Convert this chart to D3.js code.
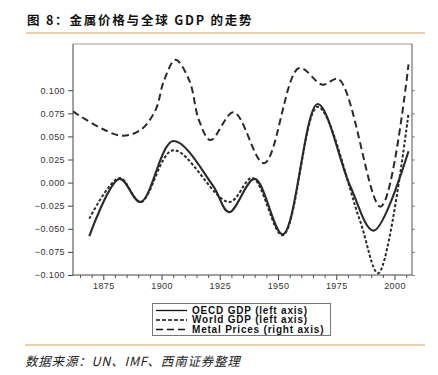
<!DOCTYPE html>
<html><head><meta charset="utf-8">
<script src="https://cdn.jsdelivr.net/npm/d3@7"></script>
<style>
body{margin:0;background:#fff;}
svg{display:block;}
</style></head>
<body>
<svg id="chart" width="438" height="375"></svg>
<script>
// ---- data ----
const oecdYears  = [1869, 1882, 1891, 1905, 1922, 1929, 1940, 1952, 1967, 1981, 1991, 2006];
const oecdValues = [-0.058, 0.004, -0.021, 0.045, -0.003, -0.032, 0.004, -0.056, 0.085, -0.004, -0.052, 0.034];
const worldYears  = [1869, 1882, 1891, 1905, 1929, 1939, 1952, 1967, 1985, 1993, 2006];
const worldValues = [-0.039, 0.005, -0.021, 0.035, -0.021, 0.005, -0.057, 0.082, -0.040, -0.098, 0.075];
const metalYears  = [1862, 1882, 1891, 1897.5, 1901, 1906, 1912, 1916, 1921, 1931, 1944, 1959, 1969, 1976, 1994, 2006];
const metalValues = [0.077, 0.051, 0.057, 0.079, 0.110, 0.133, 0.110, 0.068, 0.046, 0.076, 0.021, 0.124, 0.106, 0.112, -0.026, 0.128];
const leftTicks = [-0.100, -0.075, -0.050, -0.025, 0.000, 0.025, 0.050, 0.075, 0.100];
const xTicks = [1875, 1900, 1925, 1950, 1975, 2000];
const legendLabels = ["OECD GDP (left axis)", "World GDP (left axis)", "Metal Prices (right axis)"];
const titleText = "图 8：金属价格与全球 GDP 的走势";
const sourceText = "数据来源：UN、IMF、西南证券整理";

// ---- layout ----
const svg = d3.select("#chart");
const L = 73, R = 412, T = 44, B = 275;
const x = d3.scaleLinear().domain([1862, 2007.5]).range([L, R]);
const yL = d3.scaleLinear().domain([-0.1, 0.15]).range([B, T]);
const yR = d3.scaleLinear().domain([-0.1, 0.15]).range([B, T]);

// title
svg.append("text").attr("x", 27).attr("y", 25)
  .attr("font-family", "'Noto Sans CJK SC', 'Liberation Sans', sans-serif")
  .attr("font-weight", "bold").attr("font-size", 12.5).attr("letter-spacing", 1.8)
  .attr("fill", "#111").text(titleText);
svg.append("line").attr("x1", 26).attr("x2", 425).attr("y1", 33).attr("y2", 33)
  .attr("stroke", "#d4a458").attr("stroke-width", 1.2);

// plot frame
svg.append("line").attr("x1", L).attr("x2", R).attr("y1", T).attr("y2", T).attr("stroke", "#999").attr("stroke-width", 1);

const axisFont = "'Liberation Sans', Arial, sans-serif";

// left axis
const gL = svg.append("g").attr("transform", `translate(${L},0)`)
  .call(d3.axisLeft(yL).tickValues(leftTicks).tickFormat(d3.format(".3f")).tickSize(5).tickSizeOuter(0).tickPadding(3));
gL.select(".domain").remove();
gL.append("line").attr("y1", T).attr("y2", B).attr("stroke", "#444");
gL.selectAll(".tick line").attr("stroke", "#444");
gL.selectAll("text").attr("font-family", axisFont).attr("font-size", 9).attr("letter-spacing", 0.4).attr("fill", "#333");

// right axis (ticks only)
const gR = svg.append("g").attr("transform", `translate(${R},0)`)
  .call(d3.axisRight(yR).tickValues(leftTicks).tickFormat("").tickSize(3).tickSizeOuter(0));
gR.select(".domain").remove();
gR.append("line").attr("y1", T).attr("y2", B).attr("stroke", "#555");
gR.selectAll(".tick line").attr("stroke", "#888");

// bottom axis
const minorYears = d3.range(1865, 2006, 5).filter(v => !xTicks.includes(v));
const gM = svg.append("g").attr("transform", `translate(0,${B})`)
  .call(d3.axisBottom(x).tickValues(minorYears).tickFormat("").tickSize(3).tickSizeOuter(0));
gM.select(".domain").remove();
gM.selectAll(".tick line").attr("stroke", "#555");
const gB = svg.append("g").attr("transform", `translate(0,${B})`)
  .call(d3.axisBottom(x).tickValues(xTicks).tickFormat(d3.format("d")).tickSize(5).tickSizeOuter(0).tickPadding(3));
gB.select(".domain").remove();
gB.append("line").attr("x1", L).attr("x2", R).attr("stroke", "#444");
gB.selectAll(".tick line").attr("stroke", "#444");
gB.selectAll("text").attr("font-family", axisFont).attr("font-size", 9).attr("letter-spacing", 0.4).attr("fill", "#333");

// clip
svg.append("clipPath").attr("id", "clip").append("rect").attr("x", L).attr("y", T).attr("width", R - L).attr("height", B - T);

const mk = (years, vals) => years.map((yr, i) => [yr, vals[i]]);
const curve = d3.curveCatmullRom.alpha(0.5);
const lineL = d3.line().x(d => x(d[0])).y(d => yL(d[1])).curve(curve);
const lineR = d3.line().x(d => x(d[0])).y(d => yR(d[1])).curve(curve);

const plot = svg.append("g").attr("clip-path", "url(#clip)");
plot.append("path").datum(mk(metalYears, metalValues)).attr("d", lineR)
  .attr("fill", "none").attr("stroke", "#2a2a2a").attr("stroke-width", 2).attr("stroke-dasharray", "7,4");
plot.append("path").datum(mk(worldYears, worldValues)).attr("d", lineL)
  .attr("fill", "none").attr("stroke", "#2a2a2a").attr("stroke-width", 2).attr("stroke-dasharray", "3,2");
plot.append("path").datum(mk(oecdYears, oecdValues)).attr("d", lineL)
  .attr("fill", "none").attr("stroke", "#2a2a2a").attr("stroke-width", 2.1);

// legend
const lg = svg.append("g");
lg.append("rect").attr("x", 152.5).attr("y", 303.5).attr("width", 178).attr("height", 32)
  .attr("fill", "#fff").attr("stroke", "#777").attr("stroke-width", 1);
const dashes = [null, "4,2", "7,4"];
legendLabels.forEach((lab, i) => {
  const yy = 310.5 + i * 9.5;
  lg.append("line").attr("x1", 156).attr("x2", 187).attr("y1", yy).attr("y2", yy)
    .attr("stroke", "#111").attr("stroke-width", 1.3).attr("stroke-dasharray", dashes[i]);
  lg.append("text").attr("x", 192).attr("y", yy + 3.4)
    .attr("font-family", axisFont).attr("font-weight", "bold").attr("font-size", 10).attr("letter-spacing", 0.8)
    .attr("fill", "#111").text(lab);
});

// bottom rule and source
svg.append("line").attr("x1", 25).attr("x2", 425).attr("y1", 345).attr("y2", 345)
  .attr("stroke", "#d4a458").attr("stroke-width", 1.2);
svg.append("text").attr("x", 25).attr("y", 366)
  .attr("font-family", "'Noto Sans CJK SC', 'Liberation Sans', sans-serif")
  .attr("font-style", "italic").attr("font-size", 12.5).attr("letter-spacing", 0.8).attr("fill", "#222").text(sourceText);
</script>
</body></html>
